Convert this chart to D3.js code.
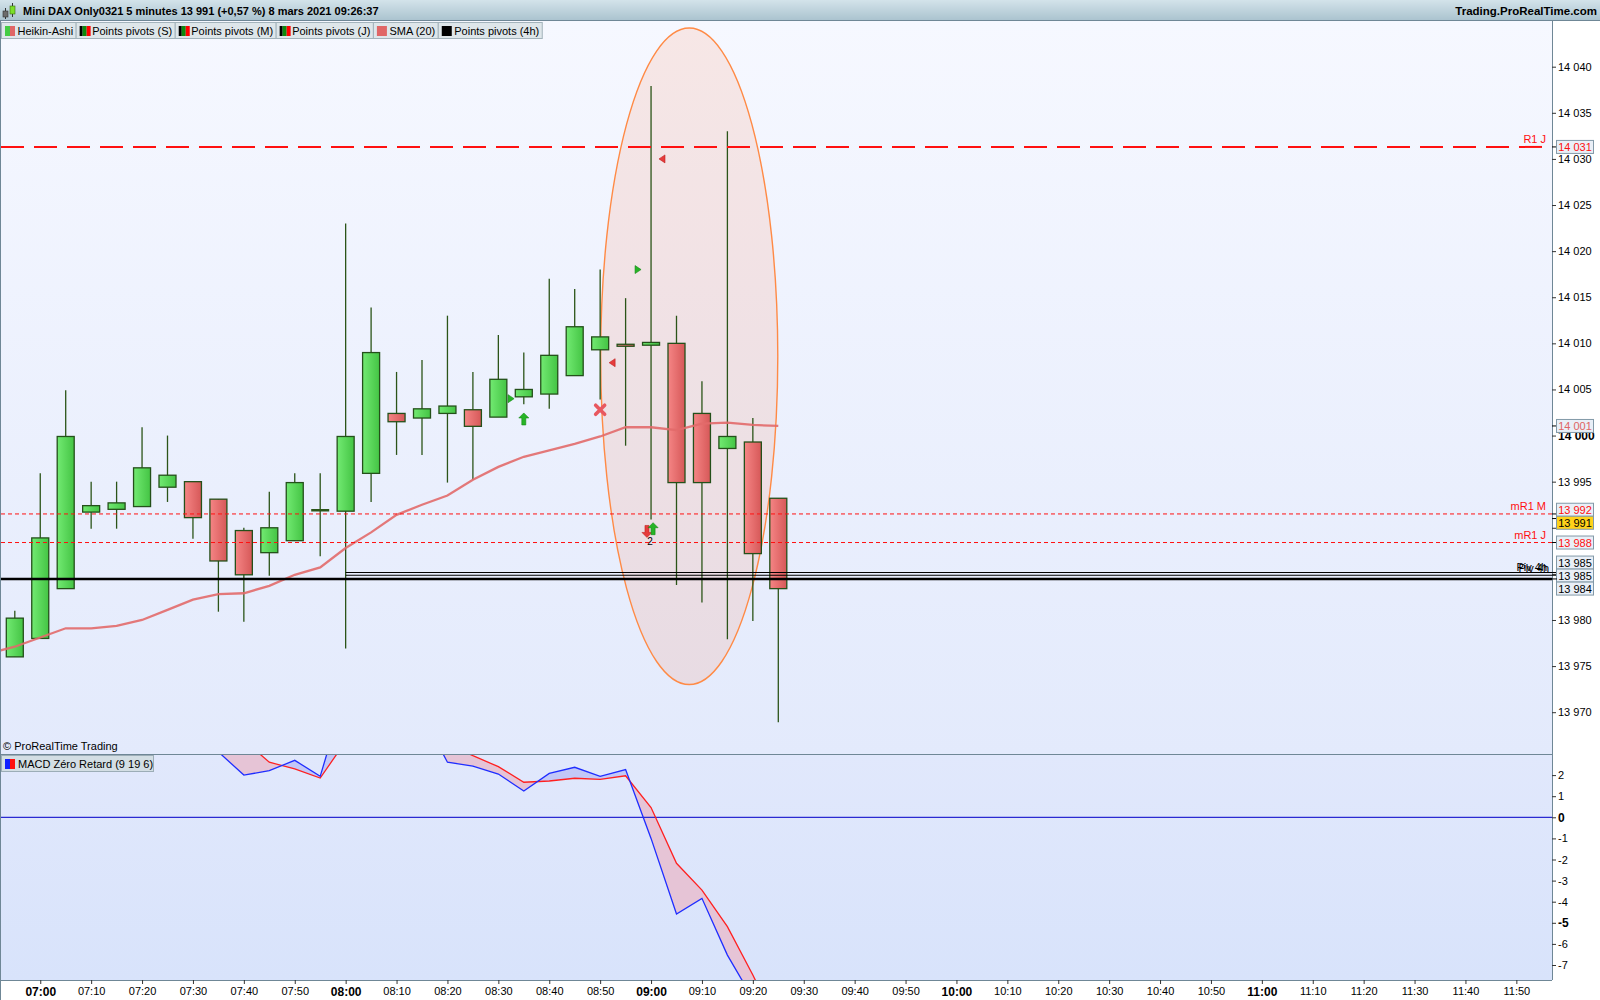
<!DOCTYPE html>
<html>
<head>
<meta charset="utf-8">
<script src="https://cdn.jsdelivr.net/npm/d3@7"></script>
<style>
body { margin: 0; background: #fff; }
svg { display: block; font-family: "Liberation Sans", Arial, sans-serif; }
</style>
</head>
<body>
<svg id="chart" width="1600" height="1000"></svg>
<script>
// ---- data ----
const firstBar = new Date(2021, 2, 8, 6, 55);

// Heikin-Ashi bars, 5 minutes, 06:55 -> 09:25
const haOpen  = [13976.0, 13978.0, 13983.4, 13991.7, 13992.0, 13992.3, 13994.4, 13995.0, 13993.1, 13989.7, 13987.3, 13988.6, 13991.9, 13991.8, 13995.9, 14002.4, 14001.9, 14002.4, 14002.8, 14002.0, 14004.2, 14004.5, 14006.5, 14009.3, 14009.9, 14009.8, 14010.0, 14002.4, 13998.6, 13999.3, 13993.2];
const haClose = [13980.2, 13988.9, 13999.9, 13992.4, 13992.7, 13996.5, 13995.7, 13991.1, 13986.4, 13984.9, 13990.0, 13994.9, 13991.9, 13999.9, 14009.0, 14001.5, 14002.9, 14003.2, 14001.0, 14006.1, 14005.0, 14008.7, 14011.8, 14010.7, 14009.7, 14010.1, 13994.9, 13994.9, 13999.9, 13987.2, 13983.4];
const haHigh  = [13981.0, 13995.9, 14004.9, 13995.0, 13995.0, 14000.9, 14000.0, 13995.0, 13993.1, 13990.0, 13993.9, 13995.9, 13995.9, 14023.0, 14013.9, 14006.9, 14008.2, 14013.0, 14006.9, 14010.9, 14009.0, 14017.0, 14015.9, 14018.0, 14014.9, 14037.9, 14013.0, 14005.9, 14033.0, 14001.9, 13993.2];
const haLow   = [13976.0, 13978.0, 13983.4, 13989.9, 13989.9, 13992.3, 13992.8, 13988.8, 13980.9, 13979.8, 13984.8, 13988.6, 13986.9, 13976.9, 13992.8, 13997.9, 13997.9, 13994.9, 13995.2, 14002.0, 14003.4, 14002.9, 14006.5, 14003.9, 13998.9, 13990.9, 13983.8, 13981.9, 13977.9, 13979.9, 13968.9];

// SMA(20), starts one bar earlier (06:50)
const smaValues = [13976.4, 13977.1, 13978.1, 13979.1, 13979.1, 13979.35, 13980.0, 13981.1, 13982.2, 13982.8, 13982.9, 13983.7, 13984.9, 13985.7, 13987.8, 13989.5, 13991.4, 13992.5, 13993.5, 13995.2, 13996.6, 13997.7, 13998.4, 13999.1, 13999.9, 14000.9, 14000.9, 14000.6, 14001.3, 14001.4, 14001.15, 14001.04];

// MACD zero lag (9 19 6)
const macdLine   = [6.0, 7.0, 8.0, 8.0, 7.5, 6.5, 5.5, 4.2, 3.1, 2.00, 2.21, 2.70, 1.94, 6.0, 7.0, 7.0, 4.9, 2.61, 2.43, 2.05, 1.25, 2.08, 2.37, 1.94, 2.26, -1.0, -4.58, -3.84, -6.53, -8.6, -11.0];
const signalLine = [4.0, 5.0, 6.0, 6.5, 6.8, 6.6, 6.0, 5.0, 4.3, 3.66, 2.61, 2.29, 1.86, 3.6, 5.0, 5.5, 4.5, 3.5, 2.92, 2.40, 1.66, 1.72, 1.85, 1.80, 1.97, 0.46, -2.18, -3.45, -5.18, -7.47, -10.0];

// pivot levels
const levelNames  = ["R1 J", "mR1 M", "mR1 J"];
const levelValues = [14031.3, 13991.5, 13988.4];
const pivot4hValues = [13985.15, 13984.85, 13984.45];
const pivot4hFromBar = [13, 13, -1];
const lastPrice = 13991;

// signal markers (bar index can be fractional)
const markerKinds  = ["up", "right", "cross", "left", "right", "left", "down", "up"];
const markerBars   = [20, 19.5, 23, 23.47, 24.49, 25.43, 24.84, 25.08];
const markerPrices = [14001.8, 14004.0, 14002.8, 14007.9, 14018.0, 14030.0, 13989.6, 13989.9];

// hand drawn ellipse: bar range / price range
const ellipseBars = [23.02, 29.98];
const ellipsePrices = [13973.0, 14044.2];

const priceTicks = d3.range(13970, 14041, 5);
const macdTicks = [2, 1, 0, -1, -2, -3, -4, -5, -6, -7];

const legendNames = ["Heikin-Ashi", "Points pivots (S)", "Points pivots (M)", "Points pivots (J)", "SMA (20)", "Points pivots (4h)"];
const legendKinds = ["ha", "piv", "piv", "piv", "sma", "black"];

// ---- layout ----
const W = 1600, H = 1000;
const left = 1, right = 1552;
const mainTop = 21, mainBot = 754, macdBot = 980;

const svg = d3.select("#chart");
const defs = svg.append("defs");

function grad(id, c0, c1, horizontal) {
    const g = defs.append("linearGradient").attr("id", id)
        .attr("x1", 0).attr("y1", 0)
        .attr("x2", horizontal ? 1 : 0).attr("y2", horizontal ? 0 : 1);
    g.append("stop").attr("offset", "0%").attr("stop-color", c0);
    g.append("stop").attr("offset", "100%").attr("stop-color", c1);
}
grad("mainBg", "#f6f8ff", "#e3eafc");
grad("macdBg", "#e1e8fc", "#d8e3fb");
grad("titleBg", "#d3e3ea", "#a9c2ce");
grad("gGreen", "#72ea72", "#44c444", true);
grad("gRed", "#f58585", "#d65858", true);

const barTime = i => new Date(firstBar.getTime() + i * 5 * 60000);
const x = d3.scaleTime()
    .domain([barTime(0), barTime(60)])
    .range([14.8, 14.8 + 60 * 25.45]);
const xb = i => x(barTime(i));
const y = d3.scaleLinear().domain([13970, 14040]).range([712.2, 66.7]);
const ym = d3.scaleLinear().domain([-7, 2]).range([965, 775.1]);

defs.append("clipPath").attr("id", "clipMain")
    .append("rect").attr("x", left).attr("y", mainTop).attr("width", right - left).attr("height", mainBot - mainTop);
defs.append("clipPath").attr("id", "clipMacd")
    .append("rect").attr("x", left).attr("y", mainBot + 1).attr("width", right - left).attr("height", macdBot - mainBot - 1);

svg.append("rect").attr("width", W).attr("height", H).attr("fill", "#fff");
svg.append("rect").attr("x", left).attr("y", mainTop).attr("width", right - left).attr("height", mainBot - mainTop).attr("fill", "url(#mainBg)");
svg.append("rect").attr("x", left).attr("y", mainBot).attr("width", right - left).attr("height", macdBot - mainBot).attr("fill", "url(#macdBg)");

// ---- main panel ----
const gMain = svg.append("g").attr("clip-path", "url(#clipMain)");

gMain.append("ellipse")
    .attr("cx", (xb(ellipseBars[0]) + xb(ellipseBars[1])) / 2)
    .attr("cy", (y(ellipsePrices[0]) + y(ellipsePrices[1])) / 2)
    .attr("rx", (xb(ellipseBars[1]) - xb(ellipseBars[0])) / 2)
    .attr("ry", (y(ellipsePrices[0]) - y(ellipsePrices[1])) / 2)
    .attr("fill", "rgba(255,130,80,0.14)")
    .attr("stroke", "#ff8a45")
    .attr("stroke-width", 1.4);

const bars = haOpen.map((o, i) => ({ i, o, c: haClose[i], h: haHigh[i], l: haLow[i] }));

gMain.selectAll("line.wick").data(bars).join("line")
    .attr("class", "wick")
    .attr("x1", d => xb(d.i)).attr("x2", d => xb(d.i))
    .attr("y1", d => y(d.h)).attr("y2", d => y(d.l))
    .attr("stroke", "#2b5418").attr("stroke-width", 1.3);

gMain.selectAll("rect.body").data(bars.filter(d => d.o !== d.c)).join("rect")
    .attr("class", "body")
    .attr("x", d => xb(d.i) - 8.5)
    .attr("width", 17)
    .attr("y", d => y(Math.max(d.o, d.c)))
    .attr("height", d => Math.max(2, Math.abs(y(d.o) - y(d.c))))
    .attr("fill", d => d.c > d.o ? "url(#gGreen)" : "url(#gRed)")
    .attr("stroke", "#24501a").attr("stroke-width", 1.3);

gMain.selectAll("line.doji").data(bars.filter(d => d.o === d.c)).join("line")
    .attr("class", "doji")
    .attr("x1", d => xb(d.i) - 9).attr("x2", d => xb(d.i) + 9)
    .attr("y1", d => y(d.o)).attr("y2", d => y(d.o))
    .attr("stroke", "#2b5418").attr("stroke-width", 2.5);

// SMA 20
gMain.append("path")
    .datum(smaValues)
    .attr("fill", "none")
    .attr("stroke", "#e26a6a")
    .attr("stroke-width", 2.3)
    .attr("stroke-opacity", 0.9)
    .attr("d", d3.line().x((d, k) => xb(k - 1)).y(d => y(d)));

// pivot levels
levelValues.forEach((v, k) => {
    const major = k === 0;
    gMain.append("line")
        .attr("x1", left).attr("x2", right)
        .attr("y1", y(v)).attr("y2", y(v))
        .attr("stroke", "#ff1010")
        .attr("stroke-width", major ? 2 : 1)
        .attr("stroke-dasharray", major ? "23,10" : "4,3");
    gMain.append("text")
        .attr("x", right - 6).attr("y", y(v) - 4)
        .attr("text-anchor", "end")
        .attr("font-size", 11).attr("fill", "#ff1010")
        .text(levelNames[k]);
});

pivot4hValues.forEach((v, k) => {
    const x0 = pivot4hFromBar[k] < 0 ? left : xb(pivot4hFromBar[k]);
    gMain.append("line")
        .attr("x1", x0).attr("x2", right)
        .attr("y1", y(v)).attr("y2", y(v))
        .attr("stroke", "#000")
        .attr("stroke-width", pivot4hFromBar[k] < 0 ? 2.5 : 1.2);
});
// two "Piv 4h" labels that sit almost on top of each other
[0, 1].forEach(k => {
    gMain.append("text")
        .attr("x", right - 5 + k * 2).attr("y", y(pivot4hValues[1]) - 4.5 + k)
        .attr("text-anchor", "end")
        .attr("font-size", 11).attr("fill", "#000")
        .text("Piv 4h");
});

// markers
const shapes = {
    up: "M0,-6L5,-1L2,-1L2,6L-2,6L-2,-1L-5,-1Z",
    down: "M0,6L5,1L2,1L2,-6L-2,-6L-2,1L-5,1Z",
    right: "M-3,-4L3,0L-3,4Z",
    left: "M3,-4L-3,0L3,4Z"
};
markerKinds.forEach((kind, k) => {
    const g = gMain.append("g")
        .attr("transform", `translate(${xb(markerBars[k])},${y(markerPrices[k])})`);
    if (kind === "cross") {
        g.append("path").attr("d", "M-4.5,-4.5L4.5,4.5M-4.5,4.5L4.5,-4.5")
            .attr("stroke", "#e85860").attr("stroke-width", 3.6).attr("stroke-linecap", "round");
    } else {
        const green = kind === "up" || kind === "right";
        g.append("path").attr("d", shapes[kind])
            .attr("fill", green ? "#26b426" : "#e63c3c")
            .attr("stroke", green ? "#138a13" : "#c02020").attr("stroke-width", 0.6);
    }
});
gMain.append("text")
    .attr("x", xb(24.96)).attr("y", y(13988.6) + 4)
    .attr("text-anchor", "middle").attr("font-size", 10).attr("fill", "#000")
    .text("2");

gMain.append("text").attr("x", 3).attr("y", 750).attr("font-size", 11).attr("fill", "#000")
    .text("\u00a9 ProRealTime Trading");

// ---- MACD panel ----
const gMacd = svg.append("g").attr("clip-path", "url(#clipMacd)");
const macdData = macdLine.map((m, i) => ({ i, m, s: signalLine[i] }));

defs.append("clipPath").attr("id", "aboveBlue")
    .append("path").datum(macdData)
    .attr("d", d3.area().x(d => xb(d.i)).y0(0).y1(d => ym(d.m)));
defs.append("clipPath").attr("id", "belowBlue")
    .append("path").datum(macdData)
    .attr("d", d3.area().x(d => xb(d.i)).y0(H + 200).y1(d => ym(d.m)));

const between = d3.area().x(d => xb(d.i)).y0(d => ym(d.s)).y1(d => ym(d.m));
gMacd.append("g").attr("clip-path", "url(#aboveBlue)")
    .append("path").datum(macdData).attr("d", between).attr("fill", "#e6c4d6");
gMacd.append("g").attr("clip-path", "url(#belowBlue)")
    .append("path").datum(macdData).attr("d", between).attr("fill", "#c2c8f8");

gMacd.append("line")
    .attr("x1", left).attr("x2", right).attr("y1", ym(0)).attr("y2", ym(0))
    .attr("stroke", "#2a2ad2").attr("stroke-width", 1.3);

gMacd.append("path").datum(macdData)
    .attr("fill", "none").attr("stroke", "#ff2020").attr("stroke-width", 1.3)
    .attr("d", d3.line().x(d => xb(d.i)).y(d => ym(d.s)));
gMacd.append("path").datum(macdData)
    .attr("fill", "none").attr("stroke", "#1f2dff").attr("stroke-width", 1.3)
    .attr("d", d3.line().x(d => xb(d.i)).y(d => ym(d.m)));

// MACD legend
const macdLeg = svg.append("g");
macdLeg.append("rect").attr("x", 1.5).attr("y", 755.5).attr("width", 152).attr("height", 16)
    .attr("fill", "#d3dee4").attr("stroke", "#9cadb7");
macdLeg.append("rect").attr("x", 5).attr("y", 759).attr("width", 5).attr("height", 10).attr("fill", "#1020ff");
macdLeg.append("rect").attr("x", 10).attr("y", 759).attr("width", 5).attr("height", 10).attr("fill", "#ff1010");
macdLeg.append("text").attr("x", 18).attr("y", 768).attr("font-size", 11).text("MACD Z\u00e9ro Retard (9 19 6)");

// ---- frames ----
const frame = "#6f8796";
svg.append("line").attr("x1", right + 0.5).attr("x2", right + 0.5).attr("y1", mainTop).attr("y2", macdBot).attr("stroke", frame);
svg.append("line").attr("x1", 0.5).attr("x2", 0.5).attr("y1", mainTop).attr("y2", H).attr("stroke", frame);
svg.append("line").attr("x1", left).attr("x2", right).attr("y1", mainBot + 0.5).attr("y2", mainBot + 0.5).attr("stroke", frame);
svg.append("line").attr("x1", 0).attr("x2", right).attr("y1", macdBot + 0.5).attr("y2", macdBot + 0.5).attr("stroke", frame);

// ---- axes ----
const spaced = v => d3.format(",")(v).replace(/,/g, " ");

const yAxis = svg.append("g").attr("transform", `translate(${right},0)`)
    .call(d3.axisRight(y).tickValues(priceTicks).tickSize(4).tickFormat(spaced));
const macdAxis = svg.append("g").attr("transform", `translate(${right},0)`)
    .call(d3.axisRight(ym).tickValues(macdTicks).tickSize(4).tickFormat(d => d));
const xAxis = svg.append("g").attr("transform", `translate(0,${macdBot})`)
    .call(d3.axisBottom(x).ticks(d3.timeMinute.every(10)).tickSize(4).tickFormat(d3.timeFormat("%H:%M")));

[yAxis, macdAxis, xAxis].forEach(a => {
    a.select(".domain").remove();
    a.selectAll(".tick line").attr("stroke", "#333");
    a.selectAll(".tick text").attr("font-family", "Liberation Sans, Arial, sans-serif")
        .attr("font-size", 11).attr("fill", "#000");
});
yAxis.selectAll(".tick text").attr("x", 6);
macdAxis.selectAll(".tick text").attr("x", 6);
yAxis.selectAll(".tick").filter(d => d === 14000).select("text").attr("font-weight", "bold").attr("font-size", 12);
macdAxis.selectAll(".tick").filter(d => d === 0 || d === -5).select("text").attr("font-weight", "bold").attr("font-size", 12);
xAxis.selectAll(".tick text").attr("dy", "0.75em");
xAxis.selectAll(".tick").filter(d => d.getMinutes() === 0).select("text")
    .attr("font-weight", "bold").attr("font-size", 12);

// price boxes on the axis, pushed apart when they collide
const boxes = [
    { v: levelValues[0], color: "#ff1010", bg: "#e9eff7" },
    { v: smaValues[smaValues.length - 1], color: "#e06464", bg: "#e9eff7" },
    { v: levelValues[1], color: "#ff1010", bg: "#e9eff7" },
    { v: lastPrice, color: "#000", bg: "#ffd21a" },
    { v: levelValues[2], color: "#ff1010", bg: "#e9eff7" },
    { v: pivot4hValues[0], color: "#000", bg: "#e9eff7" },
    { v: pivot4hValues[1], color: "#000", bg: "#e9eff7" },
    { v: pivot4hValues[2], color: "#000", bg: "#e9eff7" }
];
boxes.forEach(b => b.y = y(b.v));
boxes.sort((a, b) => a.y - b.y);
const minGap = 13;
for (let it = 0; it < 80; it++) {
    for (let k = 1; k < boxes.length; k++) {
        const gap = boxes[k].y - boxes[k - 1].y;
        if (gap < minGap) {
            const push = (minGap - gap) / 2;
            boxes[k].y += push;
            boxes[k - 1].y -= push;
        }
    }
}
// tick labels fully hidden behind a box are dropped
yAxis.selectAll(".tick").filter(d => boxes.some(b => Math.abs(b.y - y(d)) < 6)).select("text").remove();

const gBox = svg.append("g");
boxes.forEach(b => {
    gBox.append("line").attr("x1", right).attr("x2", right + 5).attr("y1", y(b.v)).attr("y2", y(b.v)).attr("stroke", "#000");
    gBox.append("rect").attr("x", right + 4.5).attr("y", b.y - 6.5).attr("width", 37).attr("height", 13)
        .attr("fill", b.bg).attr("stroke", "#8299a8");
    gBox.append("text").attr("x", right + 23).attr("y", b.y + 4)
        .attr("text-anchor", "middle").attr("font-size", 11).attr("fill", b.color)
        .text(spaced(Math.round(b.v)));
});

// ---- header ----
svg.append("rect").attr("x", 0).attr("y", 0).attr("width", W).attr("height", mainTop).attr("fill", "url(#titleBg)");
svg.append("line").attr("x1", 0).attr("x2", W).attr("y1", mainTop - 0.5).attr("y2", mainTop - 0.5).attr("stroke", frame);
const icon = svg.append("g");
icon.append("line").attr("x1", 5.5).attr("x2", 5.5).attr("y1", 8).attr("y2", 19).attr("stroke", "#333");
icon.append("rect").attr("x", 3).attr("y", 11).attr("width", 5).attr("height", 6).attr("fill", "#6c6c6c").attr("stroke", "#333").attr("stroke-width", 0.6);
icon.append("line").attr("x1", 12.5).attr("x2", 12.5).attr("y1", 3).attr("y2", 17).attr("stroke", "#333");
icon.append("rect").attr("x", 10).attr("y", 6).attr("width", 5).attr("height", 8).attr("fill", "#7be02a").attr("stroke", "#3a6a10").attr("stroke-width", 0.6);

svg.append("text").attr("x", 23).attr("y", 15).attr("font-size", 11).attr("font-weight", "bold")
    .text("Mini DAX Only0321 5 minutes 13 991 (+0,57 %) 8 mars 2021 09:26:37");
svg.append("text").attr("x", W - 3).attr("y", 15).attr("text-anchor", "end").attr("font-size", 11.5).attr("font-weight", "bold")
    .text("Trading.ProRealTime.com");

// legend items
let lx = 1.5;
legendNames.forEach((name, k) => {
    const g = svg.append("g");
    const box = g.append("rect").attr("x", lx).attr("y", mainTop + 1.5).attr("height", 16)
        .attr("fill", "#dee6ea").attr("stroke", "#a3b3bb");
    const kind = legendKinds[k];
    if (kind === "ha") {
        g.append("rect").attr("x", lx + 3.5).attr("y", mainTop + 5).attr("width", 5).attr("height", 10).attr("fill", "#44cc44");
        g.append("rect").attr("x", lx + 8.5).attr("y", mainTop + 5).attr("width", 5).attr("height", 10).attr("fill", "#e06666");
    } else if (kind === "piv") {
        g.append("rect").attr("x", lx + 3.5).attr("y", mainTop + 5).attr("width", 3).attr("height", 10).attr("fill", "#000");
        g.append("rect").attr("x", lx + 6.5).attr("y", mainTop + 5).attr("width", 4).attr("height", 10).attr("fill", "#0c8a0c");
        g.append("rect").attr("x", lx + 10.5).attr("y", mainTop + 5).attr("width", 4).attr("height", 10).attr("fill", "#ff0000");
    } else {
        g.append("rect").attr("x", lx + 3.5).attr("y", mainTop + 5).attr("width", 10).attr("height", 10)
            .attr("fill", kind === "sma" ? "#e06666" : "#000");
    }
    const t = g.append("text").attr("x", lx + 16).attr("y", mainTop + 14).attr("font-size", 11).text(name);
    const w = 16 + t.node().getComputedTextLength() + 3;
    box.attr("width", w);
    lx += w;
});
</script>
</body>
</html>
